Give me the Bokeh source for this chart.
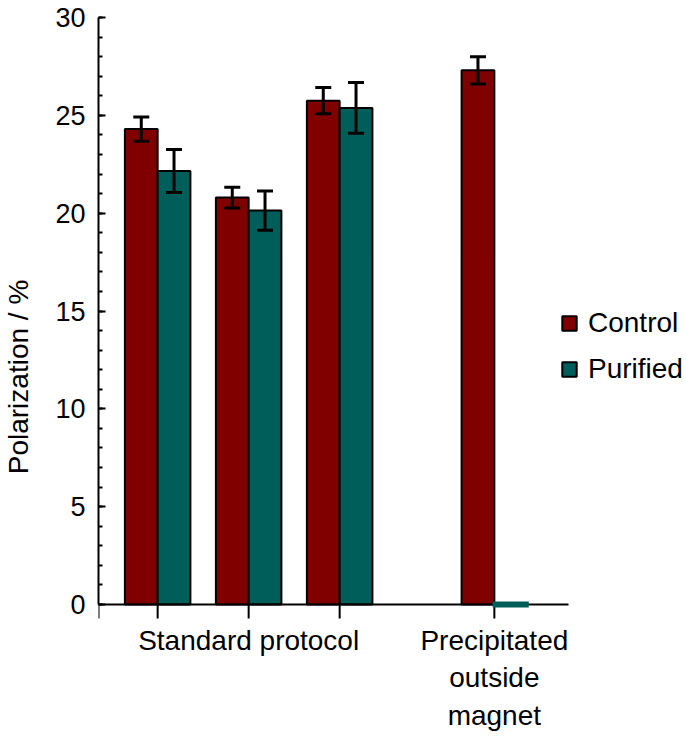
import math
from bokeh.plotting import figure
from bokeh.models import (ColumnDataSource, Whisker, TeeHead, Legend, LegendItem,
                          Range1d, SingleIntervalTicker)
from bokeh.embed import file_html
from bokeh.resources import INLINE

# ---- data ----
groups = ["Standard protocol A", "Standard protocol B", "Standard protocol C",
          "Precipitated outside magnet"]
control = [24.3, 20.8, 25.75, 27.3]
control_err = [0.62, 0.53, 0.67, 0.7]
purified = [22.15, 20.13, 25.38, 0.0]
purified_err = [1.1, 1.0, 1.3, 0.0]
tick_labels = ["", "Standard protocol", "", "Precipitated\noutside\nmagnet"]
series_names = ["Control", "Purified"]
y_label = "Polarization / %"

# ---- layout constants ----
group_x = [1, 2, 3, 4.7]
bar_w = 0.36
x_start, x_end = 0.35, 6.8115
axis_end = 5.515
y_lo, y_hi = -6.746, 30
RED = "#800000"
TEAL = "#005e5a"
FONT = "Liberation Sans"

p = figure(width=686, height=736, output_backend="svg", toolbar_location=None,
           x_range=Range1d(x_start, x_end), y_range=Range1d(y_lo, y_hi),
           min_border_left=98, min_border_right=0, min_border_top=17,
           min_border_bottom=0)
p.outline_line_color = None
p.xgrid.visible = False
p.ygrid.visible = False
p.xaxis.visible = False

cx = [g - bar_w / 2 for g in group_x]
px = [g + bar_w / 2 for g in group_x]

src_c = ColumnDataSource(dict(x=cx, top=control))
r_c = p.vbar(x="x", top="top", bottom=0, width=bar_w, source=src_c,
             fill_color=RED, line_color="black", line_width=2)

pos_idx = [i for i, v in enumerate(purified) if v > 0]
zero_idx = [i for i, v in enumerate(purified) if v == 0]
src_p = ColumnDataSource(dict(x=[px[i] for i in pos_idx], top=[purified[i] for i in pos_idx]))
r_p = p.vbar(x="x", top="top", bottom=0, width=bar_w, source=src_p,
             fill_color=TEAL, line_color="black", line_width=2)

# x axis (drawn by hand so the labels may sit inside the canvas)
p.segment(x0=[x_start], y0=[0], x1=[axis_end], y1=[0], line_color="black", line_width=2)
tick_pos = [x_start] + group_x
p.ray(x=tick_pos, y=[0] * len(tick_pos), length=14, length_units="screen",
      angle=-math.pi / 2, line_color="black", line_width=2)
lab_x = [g for g, t in zip(group_x, tick_labels) if t]
lab_t = [t for t in tick_labels if t]
p.text(x=lab_x, y=[0] * len(lab_x), text=lab_t, text_align="center", text_baseline="top",
       y_offset=20, text_font={"value": FONT}, text_font_size="28px", text_color="black",
       text_line_height=1.22)

# zero-height purified bar shown as a flat teal mark
src_z = ColumnDataSource(dict(x=[px[i] for i in zero_idx], y=[purified[i] for i in zero_idx]))
p.rect(x="x", y="y", width=bar_w * 1.1, height=6, height_units="screen", source=src_z,
       fill_color=TEAL, line_color=None)

# error bars (drawn above the bars)
ex, eu, el = [], [], []
for xs, vals, errs in ((cx, control, control_err), (px, purified, purified_err)):
    for x, v, e in zip(xs, vals, errs):
        if e > 0:
            ex.append(x); eu.append(v + e); el.append(v - e)
src_e = ColumnDataSource(dict(base=ex, upper=eu, lower=el))
w = Whisker(source=src_e, base="base", upper="upper", lower="lower", dimension="height",
            line_width=3, line_color="black", level="overlay",
            upper_head=TeeHead(size=16, line_width=3, line_color="black"),
            lower_head=TeeHead(size=16, line_width=3, line_color="black"))
p.add_layout(w)

# y axis
ya = p.yaxis[0]
ya.bounds = (0, y_hi)
ya.ticker = SingleIntervalTicker(interval=5, num_minor_ticks=5)
ya.axis_line_width = 2
ya.major_tick_line_width = 2
ya.minor_tick_line_width = 2
ya.major_tick_in = 7
ya.major_tick_out = 0
ya.minor_tick_in = 4
ya.minor_tick_out = 0
ya.major_label_text_font = FONT
ya.major_label_text_font_size = "27px"
ya.major_label_text_color = "black"
ya.major_label_standoff = 13
ya.axis_label = y_label
ya.axis_label_text_font = FONT
ya.axis_label_text_font_size = "28px"
ya.axis_label_text_font_style = "normal"
ya.axis_label_text_color = "black"
ya.axis_label_text_line_height = 1.0
ya.axis_label_standoff = 18

legend = Legend(items=[LegendItem(label=series_names[0], renderers=[r_c]),
                       LegendItem(label=series_names[1], renderers=[r_p])],
                location=(462, 351), orientation="vertical")
legend.margin = 0
legend.padding = 0
legend.border_line_color = None
legend.background_fill_alpha = 0
legend.glyph_width = 18
legend.glyph_height = 18
legend.label_standoff = 10
legend.spacing = 14
legend.label_text_font = FONT
legend.label_text_font_size = "28px"
legend.label_text_color = "black"
p.add_layout(legend)

open("out.html", "w").write(file_html(p, INLINE))
